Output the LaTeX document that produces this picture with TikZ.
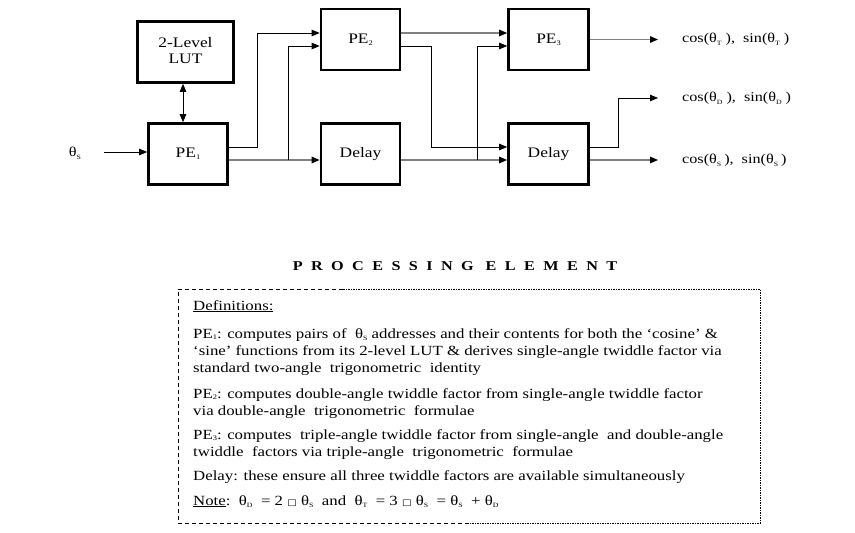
\documentclass[tikz,border=0pt]{standalone}
\usepackage{fontspec}
\setmainfont{Liberation Serif}[FakeStretch=1.2]
\newfontfamily\symfont{DejaVu Sans}[FakeStretch=1.2]
\usetikzlibrary{arrows.meta,calc}
\newcommand{\lsub}[1]{\raisebox{-0.3ex}{\fontsize{7}{7}\selectfont #1}}
\newcommand{\tsub}[1]{\raisebox{-0.45ex}{\fontsize{6.5}{7}\selectfont #1}}
\newcommand{\sq}{{\symfont\fontsize{8.5}{10}\selectfont □}}
\newcommand{\tg}{\hspace{8.4pt}}
\begin{document}
\begin{tikzpicture}[x=1pt,y=-1pt,
  blk/.style={draw,line width=2.6pt,minimum width=79pt,minimum height=61pt,inner sep=0pt,font=\fontsize{14.5}{17}\selectfont},
  tip/.style={-{Triangle[length=8pt,width=6.5pt,black]}},
  garr/.style={draw=black!50,line width=1.3pt,tip},
  barr/.style={draw=black,line width=0.8pt,tip},
  outlbl/.style={anchor=west,inner sep=0pt,font=\fontsize{13.5}{15}\selectfont},
  txt/.style={anchor=base west,inner sep=0pt,align=left,font=\fontsize{14}{17}\selectfont},
]
\useasboundingbox (0,0) rectangle (855,533);

% blocks
\node[blk,minimum width=96pt] (LUT) at (185.5,52) {\begin{tabular}{@{}c@{}}2-Level\\[-1pt]LUT\end{tabular}};
\node[blk] (PE1) at (188,154) {PE\lsub{1}};
\node[blk] (PE2) at (360.5,39.5) {PE\lsub{2}};
\node[blk] (D1) at (360.5,154) {Delay};
\node[blk,minimum width=80pt] (PE3) at (548.5,39.5) {PE\lsub{3}};
\node[blk,minimum width=80pt] (D2) at (548.5,154) {Delay};

% input
\node[inner sep=0pt,font=\fontsize{13.5}{15}\selectfont] (thS) at (75,153) {θ\tsub{S}};
\coordinate (inS) at (104,152);
\draw[barr] (inS) -- (inS -| PE1.west);
\coordinate (lx) at (183,0);
\draw[draw=black,line width=0.8pt,{Triangle[length=8pt,width=6.5pt]}-{Triangle[length=8pt,width=6.5pt]}] (LUT.south -| lx) -- (PE1.north -| lx);

% junction x positions
\coordinate (j1) at (257,0);
\coordinate (j2) at (288,0);
\coordinate (j3) at (431,0);
\coordinate (j4) at (477,0);
\coordinate (j5) at (618,0);

% port coordinates
\coordinate (p1a) at ($(PE1.east)+(0,-7)$);
\coordinate (p1b) at ($(PE1.east)+(0,6)$);
\coordinate (p2a) at ($(PE2.west)+(0,-6.5)$);
\coordinate (p2b) at ($(PE2.west)+(0,6.5)$);
\coordinate (q2a) at ($(PE2.east)+(0,-6.5)$);
\coordinate (q2b) at ($(PE2.east)+(0,6.5)$);
\coordinate (d1i) at ($(D1.west)+(0,6)$);
\coordinate (d1o) at ($(D1.east)+(0,6)$);
\coordinate (p3a) at ($(PE3.west)+(0,-6.5)$);
\coordinate (p3b) at ($(PE3.west)+(0,6.5)$);
\coordinate (d2a) at ($(D2.west)+(0,-7)$);
\coordinate (d2b) at ($(D2.west)+(0,6)$);
\coordinate (e2a) at ($(D2.east)+(0,-7)$);
\coordinate (e2b) at ($(D2.east)+(0,6)$);

% output labels
\node[outlbl] (oT) at (682,39) {cos(θ\tsub{T}\hspace{4pt}),\hspace{8pt}sin(θ\tsub{T}\hspace{4pt})};
\node[outlbl] (oD) at (682,98) {cos(θ\tsub{D}\hspace{4pt}),\hspace{8pt}sin(θ\tsub{D}\hspace{4pt})};
\node[outlbl] (oS) at (682,160) {cos(θ\tsub{S}\hspace{3pt}),\hspace{8pt}sin(θ\tsub{S}\hspace{3pt})};
\coordinate (aT) at (658,39.5);
\coordinate (aD) at (658,98);
\coordinate (aS) at (658,160);

% connectors
\draw[barr] (p1a) -- (p1a -| j1) |- (p2a);
\draw[garr] (p1b) -- (d1i);
\draw[barr] (p1b -| j2) |- (p2b);
\draw[garr] (q2a) -- (p3a);
\draw[barr] (q2b) -- (q2b -| j3) |- (d2a);
\draw[garr] (d1o) -- (d2b);
\draw[barr] (d1o -| j4) |- (p3b);
\draw[garr] (PE3.east) -- (aT);
\draw[barr] (e2a) -- (e2a -| j5) |- (aD);
\draw[garr] (e2b) -- (aS);

% title
\node[inner sep=0pt,font=\fontsize{13.5}{15}\selectfont\bfseries] (title) at (455,266)
  {P\tg R\tg O\tg C\tg E\tg S\tg S\tg I\tg N\tg G\hspace{12pt}E\tg L\tg E\tg M\tg E\tg N\tg T};

% definitions box
\coordinate (bTL) at (178,289);
\coordinate (bBR) at (760,523);
\coordinate (bTM) at (343,289);
\coordinate (bBM) at (470,523);
\draw[line width=0.7pt,dash pattern=on 4pt off 3pt] (bTM) -- (bTL) |- (bBM);
\draw[line width=0.7pt,dash pattern=on 1.5pt off 1pt] (bTM) -| (bBR) -- (bBM);

\node[txt] (def) at (193,310) {\underline{Definitions:}};
\node[txt] (t1) at (193,372) {PE\lsub{1}: computes pairs of\ \ θ\tsub{S} addresses and their contents for both the ‘cosine’ \&\\
‘sine’ functions from its 2-level LUT \& derives single-angle twiddle factor via\\
standard two-angle\ \ trigonometric\ \ identity};
\node[txt] (t2) at (193,415) {PE\lsub{2}: computes double-angle twiddle factor from single-angle twiddle factor\\
via double-angle\ \ trigonometric\ \ formulae};
\node[txt] (t3) at (193,456) {PE\lsub{3}: computes\ \ triple-angle twiddle factor from single-angle\ \ and double-angle\\
twiddle\ \ factors via triple-angle\ \ trigonometric\ \ formulae};
\node[txt] (t4) at (193,480) {Delay: these ensure all three twiddle factors are available simultaneously};
\node[txt] (t5) at (193,505) {\underline{Note}:\ \ θ\tsub{D}\ \ = 2 \sq\ θ\tsub{S}\ \ and\ \ θ\tsub{T}\ \ = 3 \sq\ θ\tsub{S}\ \ = θ\tsub{S}\ \ + θ\tsub{D}};
\end{tikzpicture}
\end{document}
